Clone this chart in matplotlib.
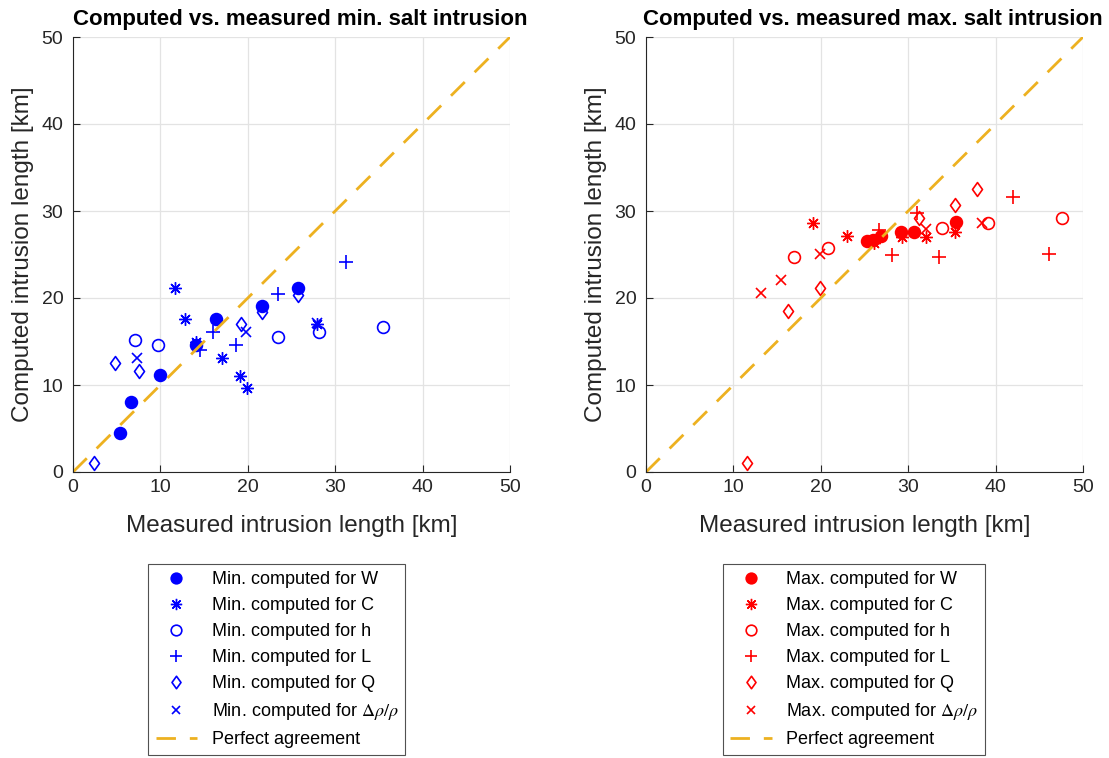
import matplotlib
matplotlib.use("Agg")
import matplotlib.pyplot as plt
from matplotlib.path import Path
import numpy as np

plt.rcParams['font.family'] = ['Liberation Sans', 'DejaVu Sans']
plt.rcParams['mathtext.fontset'] = 'stix'

# min. intrusion (measured x, computed y)
min_W_x = [5.4, 6.6, 9.9, 14.1, 16.4, 21.6, 25.8]
min_W_y = [4.5, 8.0, 11.1, 14.6, 17.6, 19.1, 21.1]
min_C_x = [11.7, 12.8, 14.1, 17.0, 19.1, 19.9, 27.9]
min_C_y = [21.1, 17.6, 14.9, 13.1, 11.0, 9.6, 17.0]
min_h_x = [7.1, 9.7, 23.5, 28.2, 35.5]
min_h_y = [15.2, 14.6, 15.5, 16.1, 16.7]
min_L_x = [14.5, 16.0, 18.6, 23.4, 31.2]
min_L_y = [14.0, 16.1, 14.6, 20.5, 24.1]
min_Q_x = [2.4, 4.8, 7.6, 19.2, 21.6, 25.8]
min_Q_y = [1.0, 12.5, 11.6, 17.0, 18.4, 20.4]
min_R_x = [7.3, 19.8, 27.9]
min_R_y = [13.1, 16.1, 17.1]

# max. intrusion
max_W_x = [25.3, 26.0, 26.9, 29.2, 30.7, 35.5]
max_W_y = [26.5, 26.7, 27.1, 27.6, 27.6, 28.7]
max_C_x = [19.1, 23.0, 26.1, 29.3, 32.0, 35.4]
max_C_y = [28.6, 27.1, 26.3, 27.0, 27.0, 27.6]
max_h_x = [16.9, 20.8, 33.9, 39.1, 47.6]
max_h_y = [24.7, 25.7, 28.1, 28.6, 29.2]
max_L_x = [26.7, 28.2, 31.0, 33.5, 42.0, 46.1]
max_L_y = [27.8, 24.9, 29.8, 24.7, 31.6, 25.0]
max_Q_x = [11.5, 16.3, 19.9, 31.2, 35.4, 37.9]
max_Q_y = [1.0, 18.5, 21.2, 29.2, 30.7, 32.5]
max_R_x = [13.2, 15.4, 19.9, 32.0, 38.5]
max_R_y = [20.6, 22.1, 25.1, 27.9, 28.6]

# matlab-like diamond (a bit taller than wide)
diamond = Path([(0, 1), (0.72, 0), (0, -1), (-0.72, 0), (0, 1)],
               [Path.MOVETO, Path.LINETO, Path.LINETO, Path.LINETO, Path.CLOSEPOLY])

params = ["W", "C", "h", "L", "Q", r"$\Delta\rho/\rho$"]
markers = ["o", (8, 2, 0), "o", "+", diamond, "x"]
filled = [True, False, False, False, False, False]
sizes = [8.5, 9, 8.5, 10, 10, 7]
edgew = [1.2, 1.0, 1.2, 1.2, 1.2, 1.2]

fig = plt.figure(figsize=(11.09, 7.58), dpi=100)
ax1 = fig.add_axes([73/1109, 286/758, 437/1109, 435/758])
ax2 = fig.add_axes([646/1109, 286/758, 437/1109, 435/758])


def draw(ax, data, color, kind, leg_x):
    for (x, y), p, m, f, s, ew in zip(data, params, markers, filled, sizes, edgew):
        ax.plot(x, y, linestyle="none", marker=m, markersize=s,
                markerfacecolor=color if f else "none",
                markeredgecolor=color, markeredgewidth=ew,
                label=f"{kind}. computed for {p}")
    ax.plot([0, 50], [0, 50], color="#EDB120", lw=2, dashes=(7, 5),
            label="Perfect agreement")
    ax.set_xlim(0, 50)
    ax.set_ylim(0, 50)
    ax.set_xticks(np.arange(0, 51, 10))
    ax.set_yticks(np.arange(0, 51, 10))
    ax.grid(True, color="#e3e3e3", lw=0.9)
    ax.set_axisbelow(True)
    for side in ["top", "right"]:
        ax.spines[side].set_visible(False)
    for side in ["left", "bottom"]:
        ax.spines[side].set_color("#262626")
    ax.tick_params(direction="in", length=5, labelsize=14, colors="#262626",
                   labelcolor="#262626")
    ax.tick_params(axis="x", pad=5)
    ax.tick_params(axis="y", pad=7)
    ax.set_xlabel("Measured intrusion length [km]", fontsize=17.5,
                  color="#262626", labelpad=14)
    ax.set_ylabel("Computed intrusion length [km]", fontsize=17.5,
                  color="#262626", labelpad=5)
    ax.set_title(f"Computed vs. measured {kind.lower()}. salt intrusion",
                 fontsize=16, fontweight="bold", pad=9, x=0.52)
    leg = ax.legend(loc="upper left", bbox_to_anchor=(leg_x, -0.19),
                    fontsize=13, frameon=True, fancybox=False, markerscale=0.9,
                    edgecolor="#262626", handlelength=2.3, labelspacing=0.5,
                    borderpad=0.4, handletextpad=0.8)
    leg.get_frame().set_linewidth(0.8)


draw(ax1, [(min_W_x, min_W_y), (min_C_x, min_C_y), (min_h_x, min_h_y),
           (min_L_x, min_L_y), (min_Q_x, min_Q_y), (min_R_x, min_R_y)],
     "blue", "Min", 0.152)
draw(ax2, [(max_W_x, max_W_y), (max_C_x, max_C_y), (max_h_x, max_h_y),
           (max_L_x, max_L_y), (max_Q_x, max_Q_y), (max_R_x, max_R_y)],
     "red", "Max", 0.155)

fig.savefig("out.png", dpi=100)
